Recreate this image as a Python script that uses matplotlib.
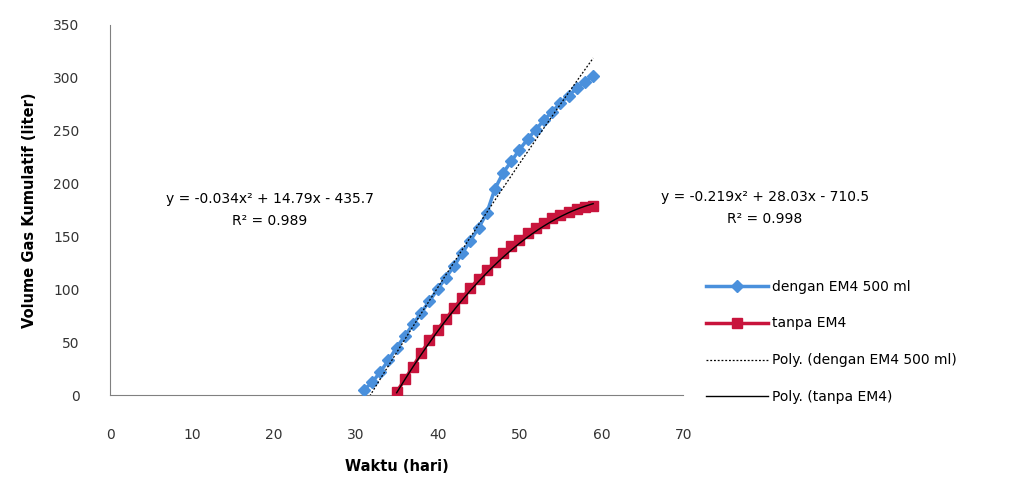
import numpy as np
import matplotlib
matplotlib.use("Agg")
import matplotlib.pyplot as plt

# Data
days_em4 = [31, 32, 33, 34, 35, 36, 37, 38, 39, 40, 41, 42, 43, 44, 45,
            46, 47, 48, 49, 50, 51, 52, 53, 54, 55, 56, 57, 58, 59]
gas_em4 = [5, 12, 22, 33, 45, 56, 67, 78, 89, 100, 111, 122, 134, 146, 158,
           172, 195, 210, 221, 232, 242, 251, 260, 268, 276, 283, 290, 296, 302]

days_tanpa = [35, 36, 37, 38, 39, 40, 41, 42, 43, 44, 45, 46, 47, 48, 49,
              50, 51, 52, 53, 54, 55, 56, 57, 58, 59]
gas_tanpa = [3, 15, 27, 40, 52, 62, 72, 82, 92, 101, 110, 118, 126, 134, 141,
             147, 153, 158, 163, 167, 170, 173, 176, 178, 179]

# Trendline coefficients as displayed on the chart (a, b, c for ax^2+bx+c)
coef_em4 = [-0.034, 14.79, -435.7]
coef_tanpa = [-0.219, 28.03, -710.5]

eq_em4 = "y = -0.034x² + 14.79x - 435.7\nR² = 0.989"
eq_tanpa = "y = -0.219x² + 28.03x - 710.5\nR² = 0.998"

x_ticks = [0, 10, 20, 30, 40, 50, 60, 70]
y_ticks = [0, 50, 100, 150, 200, 250, 300, 350]

blue = "#4A90DC"
red = "#C8143C"

fig = plt.figure(figsize=(10.29, 4.86), dpi=100)
ax = fig.add_axes([0.107, 0.187, 0.557, 0.762])

ax.plot(days_em4, gas_em4, color=blue, lw=2.5, marker="D", ms=6.5,
        label="dengan EM4 500 ml", zorder=3)
ax.plot(days_tanpa, gas_tanpa, color=red, lw=2.5, marker="s", ms=7,
        label="tanpa EM4", zorder=3)

xt1 = np.linspace(min(days_em4), max(days_em4), 200)
ax.plot(xt1, np.polyval(coef_em4, xt1), color="black", lw=0.9,
        ls=(0, (1.5, 1.5)), label="Poly. (dengan EM4 500 ml)", zorder=4)
xt2 = np.linspace(min(days_tanpa), max(days_tanpa), 200)
ax.plot(xt2, np.polyval(coef_tanpa, xt2), color="black", lw=1.0,
        label="Poly. (tanpa EM4)", zorder=4)

ax.set_xlim(0, 70)
ax.set_ylim(0, 350)
ax.set_xticks(x_ticks)
ax.set_yticks(y_ticks)
for s in ["top", "right"]:
    ax.spines[s].set_visible(False)
for s in ["left", "bottom"]:
    ax.spines[s].set_color("#808080")
ax.tick_params(axis="both", length=0, labelsize=10, colors="#333333")
ax.tick_params(axis="x", pad=24)
ax.tick_params(axis="y", pad=22)

ax.set_xlabel("Waktu (hari)", fontsize=10.5, fontweight="bold", labelpad=12)
ax.set_ylabel("Volume Gas Kumulatif (liter)", fontsize=10.5, fontweight="bold",
              labelpad=12)

fig.text(270 / 1029, 1 - 210 / 486, eq_em4, ha="center", va="center",
         fontsize=10, linespacing=1.7)
fig.text(765 / 1029, 1 - 208 / 486, eq_tanpa, ha="center", va="center",
         fontsize=10, linespacing=1.7)

leg = fig.legend(loc="upper left", bbox_to_anchor=(700 / 1029, 1 - 274 / 486),
                 frameon=False, fontsize=10, handlelength=4.5,
                 handletextpad=0.3, labelspacing=1.65, borderaxespad=0)

fig.savefig("out.png", dpi=100)
